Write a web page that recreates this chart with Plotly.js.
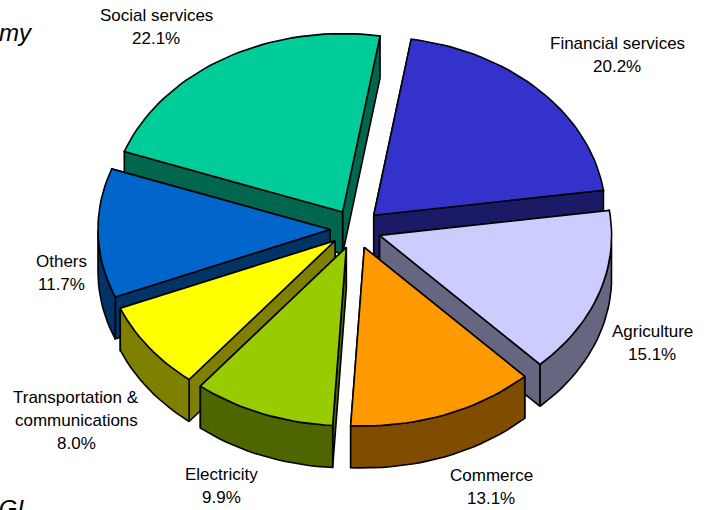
<!DOCTYPE html>
<html><head><meta charset="utf-8">
<script src="https://cdn.plot.ly/plotly-3.0.1.min.js"></script>
<style>html,body{margin:0;padding:0;background:#fff;overflow:hidden}#c{width:707px;height:510px}</style>
</head><body><div id="c"></div>
<script>
// Data
const categories = ["Financial services","Agriculture","Commerce","Electricity","Transportation & communications","Others","Social services"];
const values = [20.2,15.1,13.1,9.9,8.0,11.7,22.1];
const valueLabels = ["20.2%","15.1%","13.1%","9.9%","8.0%","11.7%","22.1%"];
const topColors = ["#3333CC","#CCCCFF","#FF9900","#99CC00","#FFFF00","#0066CC","#00CC99"];
const wallColors = ["#1A1A66","#666680","#804D00","#4D6600","#808000","#003366","#00664D"];
const labelLines = [["Financial services","20.2%"],["Agriculture","15.1%"],["Commerce","13.1%"],["Electricity","9.9%"],["Transportation &","communications","8.0%"],["Others","11.7%"],["Social services","22.1%"]];
const labelX = [617,652,491,221,76,61,156];
const labelY = [43,331,475,474,397,261,15];
// Drawing order back to front
const drawOrder = [0,6,5,1,4,2,3];
// Geometry of the tilted pie
const cx=355.5, cy=229, rx=232, ry=178.5, depth=42, pull=0.11, startDeg=9.3;

const total = values.reduce((a,b)=>a+b,0);
const traces = [];
let acc = startDeg;
const spans = values.map(v=>{const s=acc; acc+=v/total*360; return [s,acc];});
const rad = d=>d*Math.PI/180;

function poly(xs,ys,fill,name){
  traces.push({type:'scatter',mode:'lines',x:xs,y:ys,fill:'toself',fillcolor:fill,
    line:{color:'#000',width:1.6,shape:'linear'},hoverinfo:'text',text:name,showlegend:false});
}
drawOrder.forEach(i=>{
  const [a0,a1]=spans[i], mid=(a0+a1)/2;
  const ax=cx+pull*rx*Math.sin(rad(mid)), ay=cy-pull*ry*Math.cos(rad(mid));
  const n=Math.max(8,Math.round((a1-a0)/2));
  const ax_=[],ay_=[];
  for(let k=0;k<=n;k++){const t=a0+(a1-a0)*k/n; ax_.push(ax+rx*Math.sin(rad(t))); ay_.push(ay-ry*Math.cos(rad(t)));}
  const name=categories[i]+" "+valueLabels[i];
  // radial walls, farther one first
  const rad0={x:[ax,ax_[0],ax_[0],ax,ax],y:[ay,ay_[0],ay_[0]+depth,ay+depth,ay]};
  const rad1={x:[ax,ax_[n],ax_[n],ax,ax],y:[ay,ay_[n],ay_[n]+depth,ay+depth,ay]};
  const walls = ay_[0]<ay_[n] ? [rad0,rad1] : [rad1,rad0];
  walls.forEach(w=>poly(w.x,w.y,wallColors[i],name));
  // outer curved wall: only the part facing the viewer
  const fx=[],fy=[];
  for(let k=0;k<=n;k++){const t=((a0+(a1-a0)*k/n)%360+360)%360; if(t>=90&&t<=270){fx.push(ax_[k]);fy.push(ay_[k]);}}
  if(fx.length>1){
    const bx=fx.slice().reverse(), by=fy.slice().reverse().map(y=>y+depth);
    poly(fx.concat(bx,[fx[0]]),fy.concat(by,[fy[0]]),wallColors[i],name);
  }
  poly([ax].concat(ax_,[ax]),[ay].concat(ay_,[ay]),topColors[i],name);
});

const annotations=[];
labelLines.forEach((lines,i)=>lines.forEach((t,j)=>annotations.push({
  x:labelX[i],y:labelY[i]+j*23,xref:'x',yref:'y',text:t,showarrow:false,
  xanchor:'center',yanchor:'middle',font:{family:'"Liberation Sans",Arial,sans-serif',size:17,color:'#000'}})));
annotations.push({x:35,y:32,xref:'x',yref:'y',text:'<i>my</i>',showarrow:false,xanchor:'right',yanchor:'middle',
  font:{family:'"Liberation Sans",Arial,sans-serif',size:24,color:'#000'}});
annotations.push({x:26,y:508,xref:'x',yref:'y',text:'<i>IGI</i>',showarrow:false,xanchor:'right',yanchor:'middle',
  font:{family:'"Liberation Sans",Arial,sans-serif',size:24,color:'#000'}});

Plotly.newPlot('c',traces,{
  width:707,height:510,margin:{l:0,r:0,t:0,b:0},paper_bgcolor:'#fff',plot_bgcolor:'#fff',showlegend:false,
  xaxis:{range:[0,707],visible:false,fixedrange:true},
  yaxis:{range:[510,0],visible:false,fixedrange:true},
  annotations
},{displayModeBar:false,staticPlot:true});
</script></body></html>
